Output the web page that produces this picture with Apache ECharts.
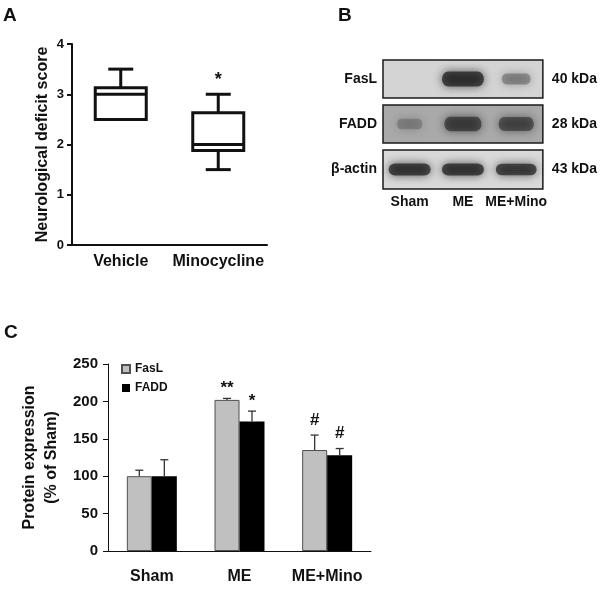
<!DOCTYPE html>
<html>
<head>
<meta charset="utf-8">
<script src="https://cdn.jsdelivr.net/npm/echarts@6/dist/echarts.min.js"></script>
<style>
html, body { margin: 0; padding: 0; background: #fff; }
#main { width: 600px; height: 590px; }
</style>
</head>
<body>
<div id="main"></div>
<script>
// A: neurological deficit score, box = [min, q1, median, q3, max]
var groupsA = ['Vehicle', 'Minocycline'];
var boxVehicle = [2.5, 2.5, 3.0, 3.13, 3.5];
var boxMino = [1.5, 1.88, 2.0, 2.63, 3.0];
var sigA = ['', '*'];

// B: western blot, band strength per lane (0..1)
var lanes = ['Sham', 'ME', 'ME+Mino'];
var proteins = ['FasL', 'FADD', 'β-actin'];
var weights = ['40 kDa', '28 kDa', '43 kDa'];
var bandFasL = [0, 1.0, 0.45];
var bandFADD = [0.3, 0.8, 0.72];
var bandActin = [1.0, 1.0, 0.95];

// C: protein expression (% of sham)
var groupsC = ['Sham', 'ME', 'ME+Mino'];
var faslMean = [100, 202, 135];
var faslErr = [8, 2, 20];
var faddMean = [100, 173, 128];
var faddErr = [22, 14, 9];
var faslSig = ['', '**', '#'];
var faddSig = ['', '*', '#'];

var FONT = 'Liberation Sans, Arial, sans-serif';
var chart = echarts.init(document.getElementById('main'));

function renderBox(params, api) {
    var x = api.value(0);
    var lo = api.coord([x, api.value(1)]);
    var q1 = api.coord([x, api.value(2)]);
    var med = api.coord([x, api.value(3)]);
    var q3 = api.coord([x, api.value(4)]);
    var hi = api.coord([x, api.value(5)]);
    var cx = lo[0], bw = 51, cw = 25;
    var st = { stroke: '#111', lineWidth: 3, fill: null };
    return {
        type: 'group',
        children: [
            { type: 'line', shape: { x1: cx, y1: hi[1], x2: cx, y2: q3[1] }, style: st },
            { type: 'line', shape: { x1: cx - cw / 2, y1: hi[1], x2: cx + cw / 2, y2: hi[1] }, style: st },
            { type: 'line', shape: { x1: cx, y1: lo[1], x2: cx, y2: q1[1] }, style: st },
            { type: 'line', shape: { x1: cx - cw / 2, y1: lo[1], x2: cx + cw / 2, y2: lo[1] }, style: st },
            { type: 'rect', shape: { x: cx - bw / 2, y: q3[1], width: bw, height: q1[1] - q3[1] },
              style: { stroke: '#111', lineWidth: 3, fill: '#fff' } },
            { type: 'line', shape: { x1: cx - bw / 2, y1: med[1], x2: cx + bw / 2, y2: med[1] }, style: st },
            { type: 'text', x: cx, y: hi[1] - 14,
              style: { text: sigA[params.dataIndex], fontSize: 18, fontWeight: 'bold', fontFamily: FONT,
                       fill: '#111', align: 'center', verticalAlign: 'middle' } }
        ]
    };
}

// error bar + significance mark, shift = -1 left bar, +1 right bar
function errRenderer(shift, sig) {
    return function (params, api) {
        var i = api.value(0);
        var top = api.coord([i, api.value(1)]);
        var tip = api.coord([i, api.value(2)]);
        var cx = top[0] + shift * 12.5;
        var st = { stroke: '#333', lineWidth: 1.3 };
        var mark = sig[params.dataIndex];
        return {
            type: 'group',
            children: [
                { type: 'line', shape: { x1: cx, y1: top[1], x2: cx, y2: tip[1] }, style: st },
                { type: 'line', shape: { x1: cx - 4, y1: tip[1], x2: cx + 4, y2: tip[1] }, style: st },
                { type: 'text', x: cx, y: tip[1] - (mark.charAt(0) === '*' ? 10 : 15),
                  style: { text: mark, fontSize: 17, fontWeight: 'bold', fontFamily: FONT,
                           fill: '#111', align: 'center', verticalAlign: 'middle' } }
            ]
        };
    };
}

// capsule shaped band, stretched to symbolSize
var BAND = 'path://M6,0 L34,0 A6,6 0 0 1 34,12 L6,12 A6,6 0 0 1 6,0 Z';

function bandData(vals, h) {
    return vals.map(function (v, j) {
        return {
            value: [j, 0, v],
            symbolSize: [18 + 24 * v, h * (0.5 + 0.5 * v)],
            itemStyle: { color: 'rgba(20,20,20,' + (0.85 * v).toFixed(2) + ')' }
        };
    });
}

var blotBg = ['#d4d4d4', '#a9a9a9', '#d9d9d9'];
var blotTop = [60, 105, 150];
var bands = [bandFasL, bandFADD, bandActin];
var bandH = [15, 16, 12];

var grids = [{ left: 72, top: 44, width: 195, height: 201 }];
var xAxes = [{
    type: 'category', gridIndex: 0, data: groupsA,
    axisLine: { lineStyle: { color: '#111', width: 2 } },
    axisTick: { alignWithLabel: true, inside: true, length: 8, lineStyle: { width: 2 } },
    axisLabel: { interval: 0, color: '#111', fontSize: 16, fontWeight: 'bold', margin: 9 }
}];
var yAxes = [{
    type: 'value', gridIndex: 0, min: 0, max: 4, interval: 1,
    name: 'Neurological deficit score', nameLocation: 'middle', nameGap: 21, nameRotate: 90,
    nameTextStyle: { color: '#111', fontSize: 16, fontWeight: 'bold' },
    axisLine: { show: true, lineStyle: { color: '#111', width: 2 } },
    axisTick: { show: true, length: 5, lineStyle: { width: 2 } },
    axisLabel: { color: '#111', fontSize: 13, fontWeight: 'bold', margin: 8 },
    splitLine: { show: false }
}];
var series = [{
    type: 'custom', xAxisIndex: 0, yAxisIndex: 0,
    data: [[0].concat(boxVehicle), [1].concat(boxMino)],
    renderItem: renderBox
}];

for (var k = 0; k < 3; k++) {
    grids.push({ left: 383, top: blotTop[k], width: 160, height: k === 2 ? 39 : 38, show: true,
                 backgroundColor: blotBg[k], borderColor: '#1a1a1a', borderWidth: 1.5 });
    xAxes.push({
        type: 'category', gridIndex: k + 1, data: lanes,
        axisLine: { show: false }, axisTick: { show: false },
        axisLabel: { show: k === 2, interval: 0, color: '#111', fontSize: 14, fontWeight: 'bold', margin: 6 }
    });
    yAxes.push({
        type: 'category', gridIndex: k + 1, data: [proteins[k]],
        axisLine: { show: false }, axisTick: { show: false },
        axisLabel: { color: '#111', fontSize: 14, fontWeight: 'bold', margin: 6 }
    });
    yAxes.push({
        type: 'category', gridIndex: k + 1, position: 'right', data: [weights[k]],
        axisLine: { show: false }, axisTick: { show: false },
        axisLabel: { color: '#111', fontSize: 14, fontWeight: 'bold', margin: 9 }
    });
    series.push({
        type: 'scatter', xAxisIndex: k + 1, yAxisIndex: 1 + k * 2,
        symbol: BAND, silent: true,
        itemStyle: { shadowBlur: 10, shadowColor: 'rgba(0,0,0,0.9)' },
        data: bandData(bands[k], bandH[k])
    });
}

grids.push({ left: 108, top: 364, width: 263, height: 187 });
xAxes.push({
    type: 'category', gridIndex: 4, data: groupsC,
    axisLine: { lineStyle: { color: '#111', width: 1 } },
    axisTick: { inside: true, length: 5 },
    axisLabel: { interval: 0, color: '#111', fontSize: 16, fontWeight: 'bold', margin: 18 }
});
yAxes.push({
    type: 'value', gridIndex: 4, min: 0, max: 250, interval: 50,
    name: 'Protein expression\n(% of Sham)', nameLocation: 'middle', nameGap: 45, nameRotate: 90,
    nameTextStyle: { color: '#111', fontSize: 16, fontWeight: 'bold', lineHeight: 22 },
    axisLine: { show: true, lineStyle: { color: '#111', width: 1 } },
    axisTick: { show: true, length: 5 },
    axisLabel: { color: '#111', fontSize: 15, fontWeight: 'bold', margin: 10 },
    splitLine: { show: false }
});
var cy = yAxes.length - 1;
series.push(
    { name: 'FasL', type: 'bar', xAxisIndex: 4, yAxisIndex: cy, data: faslMean, barWidth: 25, barGap: '0%',
      itemStyle: { color: '#c0c0c0', borderColor: '#505050', borderWidth: 1 } },
    { name: 'FADD', type: 'bar', xAxisIndex: 4, yAxisIndex: cy, data: faddMean, barWidth: 25, barGap: '0%',
      itemStyle: { color: '#000' } },
    { type: 'custom', xAxisIndex: 4, yAxisIndex: cy, renderItem: errRenderer(-1, faslSig), z: 3,
      data: faslMean.map(function (m, i) { return [i, m, m + faslErr[i]]; }) },
    { type: 'custom', xAxisIndex: 4, yAxisIndex: cy, renderItem: errRenderer(1, faddSig), z: 3,
      data: faddMean.map(function (m, i) { return [i, m, m + faddErr[i]]; }) }
);

var letter = { fontSize: 19, fontWeight: 'bold', color: '#111', fontFamily: FONT };
var option = {
    animation: false,
    textStyle: { fontFamily: FONT },
    title: [
        { text: 'A', left: 3, top: 6, padding: 0, textStyle: letter },
        { text: 'B', left: 338, top: 6, padding: 0, textStyle: letter },
        { text: 'C', left: 4, top: 323, padding: 0, textStyle: letter }
    ],
    legend: {
        data: ['FasL', 'FADD'], orient: 'vertical', left: 121, top: 363,
        itemWidth: 8, itemHeight: 8, itemGap: 7, icon: 'rect', padding: 0,
        textStyle: { fontSize: 12, fontWeight: 'bold', color: '#111' }
    },
    grid: grids,
    xAxis: xAxes,
    yAxis: yAxes,
    series: series
};
chart.setOption(option);
</script>
</body>
</html>
